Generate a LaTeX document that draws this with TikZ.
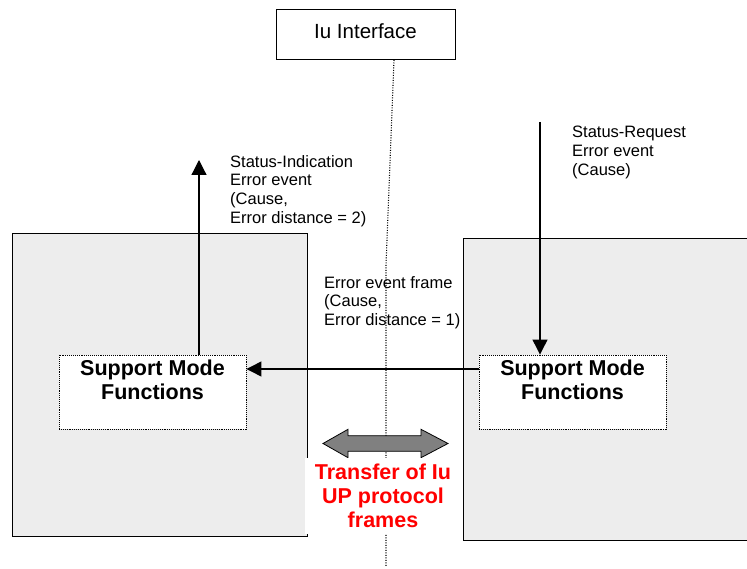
\documentclass[tikz,border=0pt]{standalone}
\usepackage{fontspec}
\setmainfont{Liberation Sans}
\usetikzlibrary{arrows.meta}
\tikzset{
    smf/.style={draw,densely dotted,line width=0.9pt,fill=white,minimum width=187pt,minimum height=74pt,inner sep=0pt},
    smftext/.style={anchor=north,align=center,inner sep=5pt,font=\bfseries\fontsize{21.5}{24}\selectfont},
}
\begin{document}
\begin{tikzpicture}[x=1pt,y=-1pt]
        \useasboundingbox (0,0) rectangle (747,569);
        \node (iu) [draw,line width=1pt,minimum width=179pt,minimum height=50pt,inner sep=0pt,text depth=8pt,font=\fontsize{20.5}{23}\selectfont] at (365.5,35) {Iu Interface};
        \coordinate (top) at (394,60);
        \coordinate (mid) at (386,265);
        \coordinate (bottom) at (386,566);
        \draw [dash pattern=on 1pt off 1.5pt,line width=1.1pt] (top) -- (mid) -- (bottom);
        \begin{scope}[every node/.style={draw,line width=1pt,fill=black!7,inner sep=0pt}]
            \node (left)  at (159.5,385)   [minimum width=295pt,minimum height=302pt] {};
            \node (right) at (606.5,389.5) [minimum width=287pt,minimum height=301pt] {};
        \end{scope}
        \node (smfL) [smf] at (152.5,392) {};
        \node (smfR) [smf] at (572.5,392) {};
        \node (smfLtext) [smftext] at (smfL.north) {Support Mode\\Functions};
        \node (smfRtext) [smftext] at (smfR.north) {Support Mode\\Functions};
        \coordinate (indTip) at (199,160);
        \coordinate (reqTop) at (540,122);
        \begin{scope}[every edge/.style={draw,line width=1.2pt,-{Triangle[length=15pt,width=15pt]}}]
            \path
                (smfL.north -| indTip) edge (indTip)
                (reqTop) edge (smfR.north -| reqTop)
                ([yshift=23pt]smfR.west) edge ([yshift=23pt]smfL.east);
        \end{scope}
        \begin{scope}[every node/.style={anchor=north west,inner sep=0pt,align=left,font=\fontsize{16.5}{18.8}\selectfont}]
            \node (ind)   at (230,155) {Status-Indication\\Error event\\(Cause,\\Error distance = 2)};
            \node (req)   at (572,126) {Status-Request\\Error event\\(Cause)};
            \node (frame) at (324,276) {Error event frame\\(Cause,\\Error distance = 1)};
        \end{scope}
        % transfer arrow
        \draw [fill=black!50,line width=0.8pt] (323,443.5) -- (348,429.3) -- (348,435.7) -- (421,435.7) -- (421,429.3)
            -- (448,443.5) -- (421,457.7) -- (421,451.3) -- (348,451.3) -- (348,457.7) -- cycle;
        \node (transfer) [fill=white,text=red,align=center,anchor=north,minimum width=156pt,inner ysep=6pt,font=\bfseries\fontsize{21.5}{24}\selectfont] at (383,458) {Transfer of Iu\\UP protocol\\frames};
\end{tikzpicture}
\end{document}
